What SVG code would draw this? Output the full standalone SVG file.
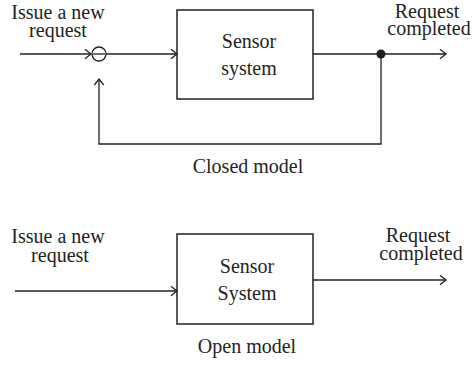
<svg xmlns="http://www.w3.org/2000/svg" width="476" height="366" viewBox="0 0 476 366">
  <defs>
    <!-- open chevron arrowhead shared by all connectors -->
    <marker id="arrow" viewBox="0 0 8 11" refX="7" refY="5.5" markerWidth="8" markerHeight="11" markerUnits="userSpaceOnUse" orient="auto">
      <path d="M1 0.8 L7 5.5 L1 10.2" fill="none" stroke="#231f20" stroke-width="1.3"/>
    </marker>
  </defs>
  <style>
    text { font-family: "Liberation Serif", "DejaVu Serif", serif; font-size: 20px; fill: #231f20; text-anchor: middle; }
    .box { fill: #ffffff; stroke: #231f20; stroke-width: 1.5; }
    .wire { fill: none; stroke: #231f20; stroke-width: 1.3; }
    .arr { marker-end: url(#arrow); }
  </style>
  <rect width="476" height="366" fill="#ffffff"/>

  <!-- Closed model -->
  <g id="closed-input-label">
    <text x="58" y="19">Issue a new</text>
    <text x="58" y="37">request</text>
  </g>
  <g id="closed-output-label">
    <text x="427" y="18">Request</text>
    <text x="429" y="35">completed</text>
  </g>
  <g id="closed-summing">
    <circle cx="99" cy="54" r="7" fill="#ffffff" stroke="#231f20" stroke-width="1.3"/>
    <line x1="93" y1="54" x2="105" y2="54" stroke="#231f20" stroke-width="1.3"/>
  </g>
  <g id="closed-sensor">
    <rect class="box" x="177" y="10" width="136" height="89"/>
    <text x="249" y="48">Sensor</text>
    <text x="249" y="75">system</text>
  </g>
  <g id="closed-junction">
    <circle cx="381" cy="54" r="4.5" fill="#231f20"/>
  </g>
  <g id="closed-connectors">
    <line class="wire arr" x1="20" y1="54" x2="91" y2="54"/>
    <line class="wire arr" x1="106" y1="54" x2="177" y2="54"/>
    <line class="wire" x1="313" y1="54" x2="381" y2="54"/>
    <line class="wire arr" x1="381" y1="54" x2="446" y2="54"/>
    <polyline class="wire arr" points="381,54 381,144 99,144 99,79"/>
  </g>
  <text x="248" y="173">Closed model</text>

  <!-- Open model -->
  <g id="open-input-label">
    <text x="58" y="243">Issue a new</text>
    <text x="60" y="262">request</text>
  </g>
  <g id="open-output-label">
    <text x="418" y="242">Request</text>
    <text x="421" y="260">completed</text>
  </g>
  <g id="open-sensor">
    <rect class="box" x="177" y="234" width="136" height="90"/>
    <text x="247" y="273">Sensor</text>
    <text x="247" y="300">System</text>
  </g>
  <g id="open-connectors">
    <line class="wire arr" x1="15" y1="291" x2="177" y2="291"/>
    <line class="wire arr" x1="313" y1="280" x2="446" y2="280"/>
  </g>
  <text x="247" y="353">Open model</text>
</svg>
